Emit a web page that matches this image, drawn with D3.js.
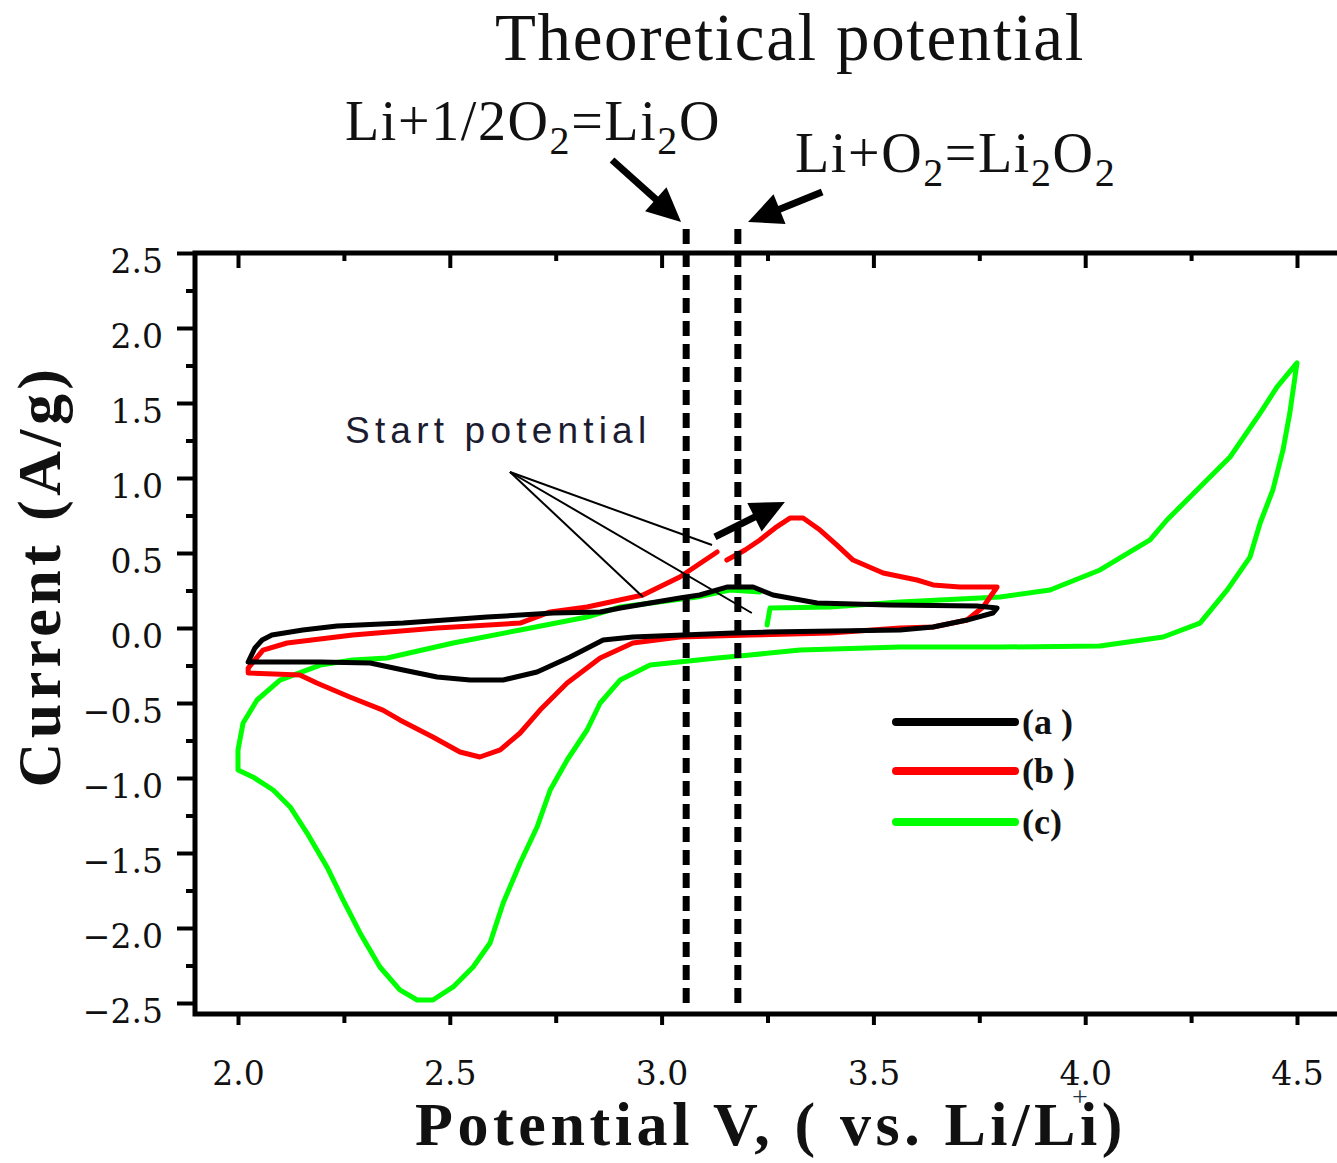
<!DOCTYPE html>
<html><head><meta charset="utf-8">
<script src="https://cdn.jsdelivr.net/npm/d3@7"></script>
<style>body{margin:0;background:#fff}</style>
</head><body>
<svg id="c" width="1337" height="1163" xmlns="http://www.w3.org/2000/svg"></svg>
<script>
// ---------- data ----------
const seriesNames = ["(a )", "(b )", "(c)"];
const seriesColors = ["#000000", "#ff0000", "#00ff00"];

// curve (a): [potential V, current A/g]
const curveA = [
  [2.024,-0.227],[2.040,-0.133],[2.057,-0.080],[2.080,-0.047],[2.153,-0.013],[2.234,0.013],
  [2.390,0.033],[2.588,0.073],[2.744,0.100],[2.855,0.107],[2.903,0.133],[3.043,0.200],
  [3.090,0.220],[3.154,0.273],[3.216,0.273],[3.263,0.220],[3.367,0.167],[3.539,0.153],
  [3.745,0.147],[3.792,0.133],[3.782,0.100],[3.721,0.053],[3.641,0.007],[3.563,-0.013],
  [3.249,-0.027],[3.169,-0.033],[2.932,-0.060],[2.862,-0.080],[2.784,-0.193],[2.706,-0.293],
  [2.626,-0.347],[2.548,-0.347],[2.470,-0.327],[2.390,-0.280],[2.312,-0.233],[2.194,-0.227],
  [2.024,-0.227]
];
// curve (b)
const curveB = [
  [3.154,0.453],[3.197,0.520],[3.232,0.587],[3.268,0.667],[3.303,0.733],[3.334,0.733],
  [3.374,0.653],[3.414,0.553],[3.452,0.453],[3.523,0.367],[3.603,0.320],[3.641,0.287],
  [3.704,0.273],[3.792,0.273],[3.759,0.140],[3.721,0.053],[3.641,0.007],[3.563,0.000],
  [3.398,-0.033],[3.209,-0.047],[3.043,-0.060],[2.932,-0.100],[2.855,-0.200],[2.777,-0.367],
  [2.713,-0.547],[2.666,-0.700],[2.619,-0.813],[2.571,-0.860],[2.524,-0.827],[2.460,-0.727],
  [2.382,-0.613],[2.342,-0.547],[2.264,-0.460],[2.186,-0.367],[2.146,-0.313],[2.024,-0.300],
  [2.024,-0.267],[2.059,-0.147],[2.116,-0.100],[2.271,-0.047],[2.470,0.000],[2.666,0.033],
  [2.737,0.107],[2.824,0.140],[2.956,0.220],[3.043,0.340],[3.131,0.507]
];
// curve (c)
const curveC = [
  [3.249,0.020],[3.256,0.133],[3.398,0.140],[3.563,0.173],[3.799,0.207],[3.917,0.253],
  [4.035,0.387],[4.153,0.587],[4.193,0.720],[4.271,0.940],[4.342,1.140],[4.413,1.433],
  [4.453,1.607],[4.500,1.767],[4.483,1.433],[4.467,1.187],[4.443,0.920],[4.413,0.700],
  [4.389,0.473],[4.335,0.253],[4.271,0.033],[4.184,-0.060],[4.035,-0.120],[3.799,-0.127],
  [3.563,-0.127],[3.327,-0.147],[3.209,-0.180],[3.131,-0.200],[2.973,-0.247],[2.902,-0.347],
  [2.855,-0.500],[2.824,-0.680],[2.777,-0.880],[2.737,-1.080],[2.706,-1.327],[2.666,-1.567],
  [2.626,-1.833],[2.595,-2.100],[2.555,-2.260],[2.508,-2.393],[2.460,-2.480],[2.423,-2.480],
  [2.382,-2.413],[2.335,-2.260],[2.288,-2.033],[2.248,-1.813],[2.210,-1.593],[2.163,-1.367],
  [2.123,-1.193],[2.083,-1.080],[2.035,-0.993],[2.000,-0.947],[2.000,-0.813],[2.012,-0.633],
  [2.045,-0.480],[2.099,-0.347],[2.194,-0.247],[2.271,-0.213],[2.352,-0.200],[2.508,-0.100],
  [2.666,-0.013],[2.824,0.073],[2.902,0.140],[3.084,0.207],[3.161,0.253],[3.232,0.240]
];
const curves = [curveA, curveB, curveC];

const xMajor = [2.0, 2.5, 3.0, 3.5, 4.0, 4.5];
const xTickLabels = ["2.0", "2.5", "3.0", "3.5", "4.0", "4.5"];
const xMinor = [2.25, 2.75, 3.25, 3.75, 4.25];
const yMajor = [2.5, 2.0, 1.5, 1.0, 0.5, 0.0, -0.5, -1.0, -1.5, -2.0, -2.5];
const yTickLabels = ["2.5","2.0","1.5","1.0","0.5","0.0","\u22120.5","\u22121.0","\u22121.5","\u22122.0","\u22122.5"];
const yMinor = [2.25, 1.75, 1.25, 0.75, 0.25, -0.25, -0.75, -1.25, -1.75, -2.25];

const theoreticalPotentials = [3.058, 3.18];  // dashed markers (V)

// annotations in data units
const arrowsThick = [
  {from:[2.883, 3.12], to:[3.046, 2.707]},
  {from:[3.379, 2.907], to:[3.204, 2.707]},
  {from:[3.126, 0.607], to:[3.291, 0.840]}
];
const startOrigin = [2.642, 1.04];
const startTargets = [[3.119, 0.553], [3.213, 0.100], [2.956, 0.207]];

// ---------- drawing ----------
const svg = d3.select("#c");
const x = d3.scaleLinear().domain([2, 4.5]).range([238, 1297]);
const y = d3.scaleLinear().domain([-2.5, 2.5]).range([1003, 253]);

const frameLeft = 195, frameTop = y(2.5), frameBottom = 1014, frameRight = 1345;

const serif = "'Liberation Serif','Times New Roman',serif";
const tickFont = "'DejaVu Serif',serif";

// curves
const line = d3.line().x(d => x(d[0])).y(d => y(d[1]));
const drawOrder = [2, 1, 0];
drawOrder.forEach(i => {
  svg.append("path").attr("d", line(curves[i]))
    .attr("fill", "none").attr("stroke", seriesColors[i])
    .attr("stroke-width", 5).attr("stroke-linejoin", "round").attr("stroke-linecap", "round");
});

// dashed vertical lines
theoreticalPotentials.forEach(v => {
  svg.append("line").attr("x1", x(v)).attr("x2", x(v))
    .attr("y1", y(2.66)).attr("y2", 1010)
    .attr("stroke", "#000").attr("stroke-width", 7).attr("stroke-dasharray", "15,8");
});

// frame
svg.append("path")
  .attr("d", `M${frameRight},${frameTop}H${frameLeft}V${frameBottom}H${frameRight}`)
  .attr("fill", "none").attr("stroke", "#000").attr("stroke-width", 5);

// axes
function styleAxis(g) {
  g.select(".domain").remove();
  g.selectAll(".tick line").attr("stroke", "#000").attr("stroke-width", 4);
  g.selectAll(".tick text").attr("fill", "#111").attr("font-family", tickFont).attr("font-size", 33);
}
const gy = svg.append("g").attr("transform", `translate(${frameLeft},0)`)
  .call(d3.axisLeft(y).tickValues(yMajor).tickFormat((d, i) => yTickLabels[i]).tickSize(18).tickPadding(14));
styleAxis(gy);
gy.selectAll(".tick text").attr("transform", "translate(0,9)");
const gyMinor = svg.append("g").attr("transform", `translate(${frameLeft},0)`)
  .call(d3.axisLeft(y).tickValues(yMinor).tickFormat("").tickSize(9));
styleAxis(gyMinor);

const gx = svg.append("g").attr("transform", `translate(0,${frameBottom})`)
  .call(d3.axisBottom(x).tickValues(xMajor).tickFormat((d, i) => xTickLabels[i]).tickSize(11).tickPadding(37));
styleAxis(gx);
const gxMinor = svg.append("g").attr("transform", `translate(0,${frameBottom})`)
  .call(d3.axisBottom(x).tickValues(xMinor).tickFormat("").tickSize(9));
styleAxis(gxMinor);

const gt = svg.append("g").attr("transform", `translate(0,${frameTop})`)
  .call(d3.axisBottom(x).tickValues(xMajor).tickFormat("").tickSize(15));
styleAxis(gt);
const gtMinor = svg.append("g").attr("transform", `translate(0,${frameTop})`)
  .call(d3.axisBottom(x).tickValues(xMinor).tickFormat("").tickSize(8));
styleAxis(gtMinor);

// axis titles
svg.append("text").attr("x", 771).attr("y", 1145).attr("text-anchor", "middle")
  .attr("font-family", serif).attr("font-weight", "bold").attr("font-size", 62)
  .attr("letter-spacing", 4.6).attr("fill", "#111")
  .text("Potential V, ( vs. Li/Li)");
svg.append("text").attr("x", 1080).attr("y", 1106).attr("text-anchor", "middle")
  .attr("font-family", serif).attr("font-size", 28).attr("fill", "#234")
  .text("+");
svg.append("text").attr("transform", "translate(60,576) rotate(-90)").attr("text-anchor", "middle")
  .attr("font-family", serif).attr("font-weight", "bold").attr("font-size", 62)
  .attr("letter-spacing", 4.4).attr("fill", "#111")
  .text("Current (A/g)");

// header texts
svg.append("text").attr("x", 790).attr("y", 60).attr("text-anchor", "middle")
  .attr("font-family", serif).attr("font-size", 67).attr("letter-spacing", 1.6).attr("fill", "#111")
  .text("Theoretical potential");

function formula(xPos, yPos, parts) {
  const t = svg.append("text").attr("x", xPos).attr("y", yPos)
    .attr("font-family", serif).attr("font-size", 56).attr("letter-spacing", 1.6).attr("fill", "#111");
  parts.forEach(p => {
    if (p.sub) t.append("tspan").attr("font-size", 40).attr("dy", 14).text(p.t);
    else t.append("tspan").attr("dy", p.up ? -14 : 0).text(p.t);
  });
}
formula(345, 140, [{t:"Li+1/2O"},{t:"2",sub:true},{t:"=Li",up:true},{t:"2",sub:true},{t:"O",up:true}]);
formula(795, 172, [{t:"Li+O"},{t:"2",sub:true},{t:"=Li",up:true},{t:"2",sub:true},{t:"O",up:true},{t:"2",sub:true}]);

svg.append("text").attr("x", 345).attr("y", 443)
  .attr("font-family", "'Liberation Sans',Arial,sans-serif").attr("font-size", 37)
  .attr("letter-spacing", 5.2).attr("fill", "#1c1c30")
  .text("Start potential");

// thin pointer lines
startTargets.forEach(t => {
  svg.append("line").attr("x1", x(startOrigin[0])).attr("y1", y(startOrigin[1]))
    .attr("x2", x(t[0])).attr("y2", y(t[1]))
    .attr("stroke", "#000").attr("stroke-width", 2);
});

// thick arrows
function arrow(a) {
  const x1 = x(a.from[0]), y1 = y(a.from[1]), x2 = x(a.to[0]), y2 = y(a.to[1]);
  const dx = x2 - x1, dy = y2 - y1, len = Math.hypot(dx, dy);
  const ux = dx / len, uy = dy / len, L = 34, W = 16;
  const bx = x2 - ux * L, by = y2 - uy * L;
  svg.append("line").attr("x1", x1).attr("y1", y1).attr("x2", bx + ux * 4).attr("y2", by + uy * 4)
    .attr("stroke", "#000").attr("stroke-width", 7);
  svg.append("polygon")
    .attr("points", `${x2},${y2} ${bx - uy * W},${by + ux * W} ${bx + uy * W},${by - ux * W}`)
    .attr("fill", "#000");
}
arrowsThick.forEach(arrow);

// legend
const legendY = [722, 771, 822];
seriesNames.forEach((n, i) => {
  svg.append("line").attr("x1", 896).attr("x2", 1015).attr("y1", legendY[i]).attr("y2", legendY[i])
    .attr("stroke", seriesColors[i]).attr("stroke-width", 8).attr("stroke-linecap", "round");
  svg.append("text").attr("x", 1022).attr("y", legendY[i] + 12)
    .attr("font-family", serif).attr("font-weight", "bold").attr("font-size", 36).attr("fill", "#111")
    .text(n);
});
</script>
</body></html>
